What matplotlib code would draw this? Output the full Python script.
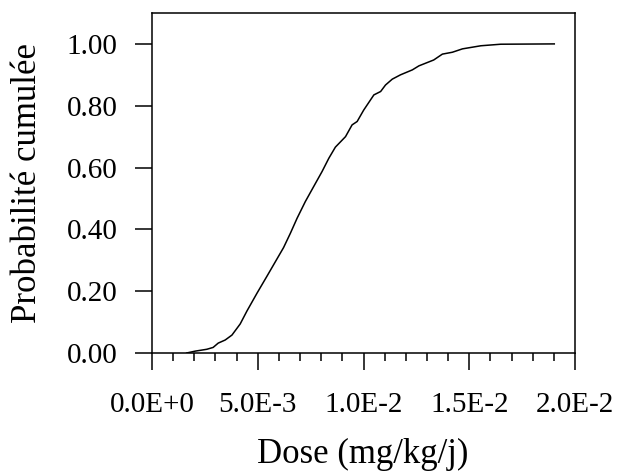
import numpy as np
import matplotlib
matplotlib.use('Agg')
import matplotlib.pyplot as plt
from matplotlib.ticker import MultipleLocator, FuncFormatter

dose = [1.64e-3, 2.04e-3, 2.59e-3, 2.89e-3, 3.13e-3, 3.46e-3, 3.78e-3, 4.17e-3,
        4.49e-3, 4.96e-3, 5.44e-3, 5.83e-3, 6.22e-3, 6.54e-3, 6.86e-3, 7.25e-3,
        7.64e-3, 8.04e-3, 8.36e-3, 8.67e-3, 9.15e-3, 9.46e-3, 9.70e-3, 10.01e-3,
        10.49e-3, 10.81e-3, 11.04e-3, 11.36e-3, 11.75e-3, 12.31e-3, 12.62e-3,
        13.32e-3, 13.73e-3, 14.20e-3, 14.68e-3, 15.55e-3, 16.49e-3, 19.02e-3]
prob = [0.0, 0.006, 0.012, 0.018, 0.032, 0.042, 0.058, 0.094,
        0.136, 0.193, 0.249, 0.295, 0.341, 0.387, 0.436, 0.490,
        0.538, 0.587, 0.630, 0.666, 0.700, 0.738, 0.749, 0.786,
        0.835, 0.846, 0.867, 0.886, 0.900, 0.916, 0.929,
        0.948, 0.967, 0.973, 0.984, 0.994, 0.999, 1.0]

xticklabels = ['0.0E+0', '5.0E-3', '1.0E-2', '1.5E-2', '2.0E-2']

plt.rcParams['font.family'] = ['Liberation Serif', 'DejaVu Serif']

fig = plt.figure(figsize=(6.17, 4.73), dpi=100)
ax = fig.add_axes([152 / 617, 1 - 353 / 473, (575 - 152) / 617, (353 - 13) / 473])

ax.plot(dose, prob, color='black', lw=1.1)

ax.set_xlim(0, 0.02)
ax.set_ylim(0, 1.1)
ax.xaxis.set_major_locator(MultipleLocator(0.005))
ax.xaxis.set_minor_locator(MultipleLocator(0.001))
ax.xaxis.set_major_formatter(FuncFormatter(lambda v, p: xticklabels[int(round(v / 0.005))] if 0 <= round(v / 0.005) < len(xticklabels) else ''))
ax.set_yticks(np.arange(0, 1.01, 0.2))
ax.yaxis.set_major_formatter(FuncFormatter(lambda v, p: '%.2f' % v))

ax.tick_params(which='major', direction='out', length=12, width=1.1, labelsize=21)
ax.tick_params(which='minor', direction='out', length=6, width=1.1)
ax.tick_params(axis='x', which='major', pad=16)
ax.tick_params(axis='y', which='major', pad=13)
for s in ax.spines.values():
    s.set_linewidth(1.1)

ax.set_xlabel('Dose (mg/kg/j)', fontsize=25)
ax.set_ylabel('Probabilité cumulée', fontsize=25)
ax.xaxis.set_label_coords(0.499, -0.25)
ax.yaxis.set_label_coords(-0.255, 0.5)

plt.savefig('out.png', dpi=100)
